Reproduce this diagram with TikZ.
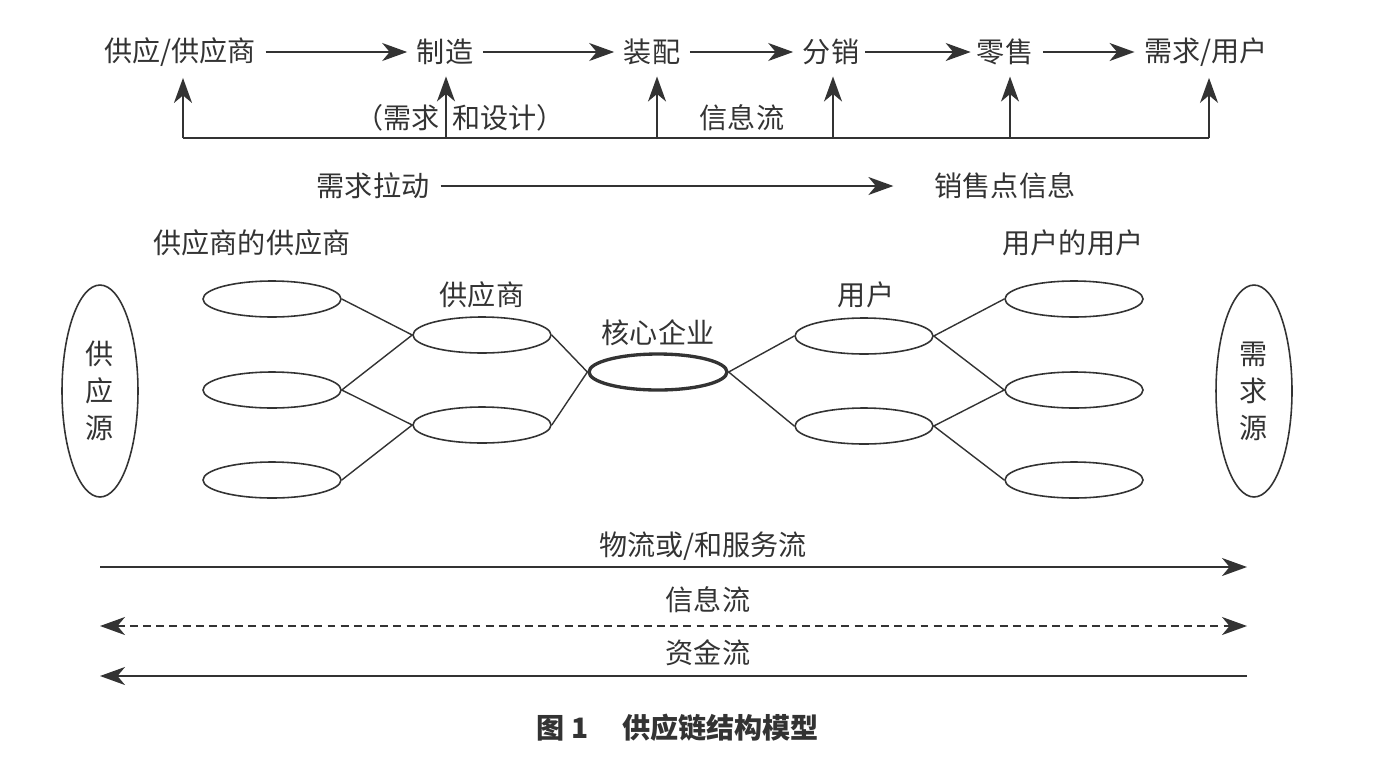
\documentclass[tikz,border=0pt]{standalone}
\usepackage{fontspec}
\newfontfamily\cjk{Noto Sans CJK SC}
\usetikzlibrary{arrows.meta,shapes.geometric}
\definecolor{ink}{HTML}{333333}

\begin{document}
\begin{tikzpicture}
			[x=0.02cm, y=-0.02cm, font=\cjk\fontsize{16}{19}\selectfont, ink,
			flow/.style		={draw=ink, line width=1.1pt, -{Stealth[length=5mm,width=3.6mm,inset=1.5mm]}},
			twoway/.style	={draw=ink, line width=1.1pt, {Stealth[length=5mm,width=3.6mm,inset=1.5mm]}-{Stealth[length=5mm,width=3.6mm,inset=1.5mm]}, dash pattern=on 4.5pt off 3pt},
			base/.style		={draw=ink, line width=1.1pt},
			oval/.style		={ellipse, draw=ink, line width=0.9pt, minimum width=2.76cm, minimum height=0.72cm, inner sep=0pt},
			core/.style		={oval, line width=1.9pt},
			source/.style	={ellipse, draw=ink, line width=0.9pt, minimum width=1.52cm, minimum height=4.24cm, inner sep=0pt, align=center},
			tie/.style		={draw=ink, line width=0.8pt},]
			\useasboundingbox (0,0) rectangle (1378,768);
			% process chain
			\node (sup) at (180,52)	{供应/供应商};
			\node (mfg) at (445,52)	{制造};
			\node (asm) at (652,52)	{装配};
			\node (dis) at (831,52)	{分销};
			\node (ret) at (1005,52)	{零售};
			\node (usr) at (1206,52)	{需求/用户};
			\draw[flow,shorten <=2pt,shorten >=2pt] (sup) -- (mfg);
			\draw[flow,shorten <=2pt,shorten >=2pt] (mfg) -- (asm);
			\draw[flow,shorten <=2pt,shorten >=2pt] (asm) -- (dis);
			\draw[flow] (dis) -- (ret);
			\draw[flow,shorten <=2pt,shorten >=2pt] (ret) -- (usr);
			% feedback
			\coordinate (b1) at (183,138);
			\coordinate (b2) at (446,138);
			\coordinate (b3) at (657,138);
			\coordinate (b4) at (833,138);
			\coordinate (b5) at (1010,138);
			\coordinate (b6) at (1209,138);
			\draw[base] (b1) -- (b6);
			\foreach \b/\n in {b1/sup, b2/mfg, b3/asm, b4/dis, b5/ret, b6/usr}
				\draw[flow,shorten >=3pt] (\b) -- (\b |- \n.south);
			\node[anchor=east, inner sep=0pt] (dem) at (440,118) {（需求};
			\node[anchor=west, inner sep=0pt] (dsg) at (452,118) {和设计）};
			\node (inf) at (742,118) {信息流};
			% pull
			\node (pull) at (373,186) {需求拉动};
			\node (pos) at (1005,186) {销售点信息};
			\draw[flow,shorten <=3pt,shorten >=20pt] (pull) -- (pos);
			% network
			\node (ss) at (252,243) {供应商的供应商};
			\node (uu) at (1073,243) {用户的用户};
			\node[source] (src) at (100,391) {供\\[2pt]应\\[2pt]源};
			\node[source] (snk) at (1254,391) {需\\[2pt]求\\[2pt]源};
			\node[oval] (l1) at (272,299) {};
			\node[oval] (l2) at (272,390) {};
			\node[oval] (l3) at (272,480) {};
			\node[oval] (s1) at (482,335) {};
			\node[oval] (s2) at (482,425) {};
			\node[core] (c)  at (658,372) {};
			\node[oval] (u1) at (864,336) {};
			\node[oval] (u2) at (864,426) {};
			\node[oval] (r1) at (1074,299) {};
			\node[oval] (r2) at (1074,390) {};
			\node[oval] (r3) at (1074,480) {};
			\node at (482,295) {供应商};
			\node at (658,333) {核心企业};
			\node at (866,295) {用户};
			\draw[tie] (l1.east) -- (s1.west) -- (l2.east) -- (s2.west) -- (l3.east);
			\draw[tie] (s1.east) -- (c.west) -- (s2.east);
			\draw[tie] (u1.west) -- (c.east) -- (u2.west);
			\draw[tie] (r1.west) -- (u1.east) -- (r2.west) -- (u2.east) -- (r3.west);
			% flows
			\coordinate (f1a) at (100,567);	\coordinate (f1b) at (1247,567);
			\coordinate (f2a) at (100,626);	\coordinate (f2b) at (1247,626);
			\coordinate (f3a) at (100,676);	\coordinate (f3b) at (1247,676);
			\node (mat) at (703,546) {物流或/和服务流};
			\node (info) at (708,600) {信息流};
			\node (cash) at (708,653) {资金流};
			\draw[flow] (f1a) -- (f1b);
			\draw[twoway] (f2a) -- (f2b);
			\draw[flow] (f3b) -- (f3a);
			% caption
			\node[font=\cjk\bfseries\fontsize{16}{19}\selectfont] (cap) at (678,728) {图 1\hspace{1.2em}供应链结构模型};
		\end{tikzpicture}
\end{document}
